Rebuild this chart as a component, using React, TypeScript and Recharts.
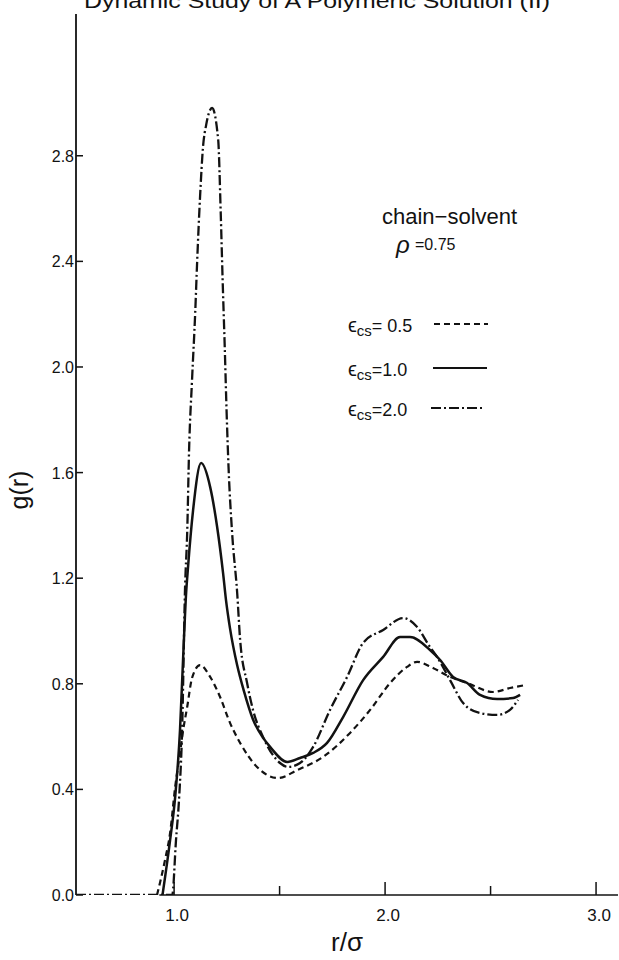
import { Line, LineChart, ReferenceLine, XAxis, YAxis } from 'recharts'

// r/sigma and g(r), one pair of arrays per epsilon_cs
const rHalf = [0.919, 0.957, 0.981, 1.005, 1.028, 1.043, 1.062, 1.085, 1.123, 1.171, 1.218, 1.265, 1.313, 1.393, 1.493, 1.583, 1.706, 1.834, 1.929, 2.024, 2.104, 2.152, 2.227, 2.308, 2.389, 2.512, 2.592, 2.664]
const gHalf = [0, 0.133, 0.235, 0.409, 0.538, 0.625, 0.712, 0.822, 0.871, 0.826, 0.75, 0.652, 0.576, 0.485, 0.443, 0.473, 0.523, 0.614, 0.701, 0.803, 0.864, 0.883, 0.86, 0.826, 0.803, 0.769, 0.784, 0.795]

const rOne = [0.945, 0.981, 1.005, 1.028, 1.043, 1.057, 1.066, 1.09, 1.128, 1.171, 1.204, 1.232, 1.246, 1.265, 1.299, 1.33, 1.374, 1.422, 1.455, 1.536, 1.597, 1.659, 1.725, 1.801, 1.896, 1.991, 2.071, 2.118, 2.213, 2.261, 2.322, 2.389, 2.45, 2.531, 2.607, 2.64]
const gOne = [0, 0.208, 0.371, 0.625, 0.902, 1.144, 1.242, 1.458, 1.636, 1.545, 1.394, 1.22, 1.117, 1.01, 0.87, 0.775, 0.665, 0.595, 0.561, 0.504, 0.519, 0.538, 0.576, 0.674, 0.814, 0.902, 0.977, 0.977, 0.928, 0.89, 0.826, 0.803, 0.758, 0.742, 0.746, 0.758]

const rTwo = [0.535, 0.991, 1.009, 1.024, 1.038, 1.052, 1.062, 1.071, 1.085, 1.1, 1.109, 1.123, 1.137, 1.152, 1.18, 1.209, 1.221, 1.23, 1.24, 1.249, 1.258, 1.275, 1.299, 1.313, 1.346, 1.374, 1.422, 1.502, 1.54, 1.597, 1.659, 1.739, 1.82, 1.896, 1.991, 2.085, 2.152, 2.213, 2.246, 2.308, 2.37, 2.45, 2.531, 2.592, 2.63]
const gTwo = [0, 0, 0.208, 0.371, 0.625, 1.167, 1.371, 1.686, 1.951, 2.205, 2.394, 2.644, 2.833, 2.917, 2.981, 2.86, 2.583, 2.33, 2.076, 1.826, 1.621, 1.371, 1.144, 0.966, 0.803, 0.701, 0.598, 0.5, 0.485, 0.5, 0.561, 0.701, 0.826, 0.955, 1.004, 1.049, 1.015, 0.939, 0.902, 0.814, 0.727, 0.689, 0.682, 0.701, 0.739]

const yTicks = [0, 0.4, 0.8, 1.2, 1.6, 2.0, 2.4, 2.8]
const xTicks = [1.0, 1.5, 2.0, 2.5, 3.0]
const xLabelled = [1.0, 2.0, 3.0]

const zip = (r: number[], g: number[]) => r.map((v, i) => ({ r: v, g: g[i] }))

const INK = '#121212'
const FONT = '"Liberation Sans", Arial, Helvetica, sans-serif'
const LEFT = 76
const BOTTOM = 895

const DASH = '6 4'
const DASH_DOT = '10 3 2 3'

function YTick({ y, payload }: any) {
  return (
    <g>
      <line x1={LEFT} x2={LEFT + 7} y1={y} y2={y} stroke={INK} strokeWidth={1.5} />
      <text x={LEFT - 2} y={y} dy={6} textAnchor="end" fontSize={16} fill={INK} fontFamily={FONT}>
        {payload.value.toFixed(1)}
      </text>
    </g>
  )
}

function XTick({ x, payload }: any) {
  const major = xLabelled.includes(payload.value)
  return (
    <g>
      <line x1={x} x2={x} y1={BOTTOM} y2={BOTTOM - (major ? 13 : 9)} stroke={INK} strokeWidth={1.5} />
      {major && (
        <text x={x + 3} y={BOTTOM + 26} textAnchor="middle" fontSize={17} fill={INK} fontFamily={FONT}>
          {payload.value.toFixed(1)}
        </text>
      )}
    </g>
  )
}

function Entry({ y, value, dash, x2 }: { y: number; value: string; dash?: string; x2: number }) {
  return (
    <g>
      <text x={348} y={y + 8} fontSize={20} fill={INK} fontFamily={FONT}>
        ϵ
        <tspan fontSize={15} dy={4}>cs</tspan>
        <tspan fontSize={18} dy={-4}>{value}</tspan>
      </text>
      <line x1={x2 - 54} x2={x2} y1={y} y2={y} stroke={INK} strokeWidth={2} strokeDasharray={dash} />
    </g>
  )
}

export default function App() {
  return (
    <div style={{ position: 'fixed', left: 0, top: 0, width: 619, height: 960, background: '#fff' }}>
      <LineChart width={619} height={960} margin={{ top: 14, right: 1, bottom: 0, left: 0 }}>
        <XAxis
          type="number"
          dataKey="r"
          domain={[0.535, 3.104]}
          ticks={xTicks}
          allowDataOverflow
          axisLine={false}
          tickLine={false}
          tick={<XTick />}
          height={65}
        />
        <YAxis
          type="number"
          domain={[0, 3.337]}
          ticks={yTicks}
          allowDataOverflow
          axisLine={{ stroke: INK, strokeWidth: 1.8 }}
          tickLine={false}
          tick={<YTick />}
          width={76}
        />
        <ReferenceLine
          segment={[{ x: 0.93, y: 0 }, { x: 3.104, y: 0 }]}
          stroke={INK}
          strokeWidth={1.5}
        />
        <Line data={zip(rTwo, gTwo)} dataKey="g" type="monotone" dot={false} stroke={INK} strokeWidth={2.3} strokeDasharray={DASH_DOT} isAnimationActive={false} />
        <Line data={zip(rOne, gOne)} dataKey="g" type="monotone" dot={false} stroke={INK} strokeWidth={2.5} isAnimationActive={false} />
        <Line data={zip(rHalf, gHalf)} dataKey="g" type="monotone" dot={false} stroke={INK} strokeWidth={2.2} strokeDasharray={DASH} isAnimationActive={false} />
      </LineChart>
      <svg width={619} height={960} style={{ position: 'absolute', left: 0, top: 0, pointerEvents: 'none' }}>
        <text x={84} y={8} fontSize={21} fill={INK} fontFamily={FONT} textLength={466} lengthAdjust="spacingAndGlyphs">
          Dynamic Study of A Polymeric Solution (II)
        </text>
        <text x={382} y={224} fontSize={22} fill={INK} fontFamily={FONT}>chain−solvent</text>
        <text x={396} y={253} fontSize={24} fontStyle="italic" fill={INK} fontFamily={FONT}>ρ</text>
        <text x={415} y={250} fontSize={16} fill={INK} fontFamily={FONT}>=0.75</text>
        <Entry y={324} value="= 0.5" dash={DASH} x2={488} />
        <Entry y={368} value="=1.0" x2={487} />
        <Entry y={408} value="=2.0" dash={DASH_DOT} x2={485} />
        <text x={20} y={490} fontSize={25} fill={INK} fontFamily={FONT} textAnchor="middle" transform="rotate(-90 20 490)" dy={8}>
          g(r)
        </text>
        <text x={347} y={951} fontSize={26} fill={INK} fontFamily={FONT} textAnchor="middle">r/σ</text>
      </svg>
    </div>
  )
}
